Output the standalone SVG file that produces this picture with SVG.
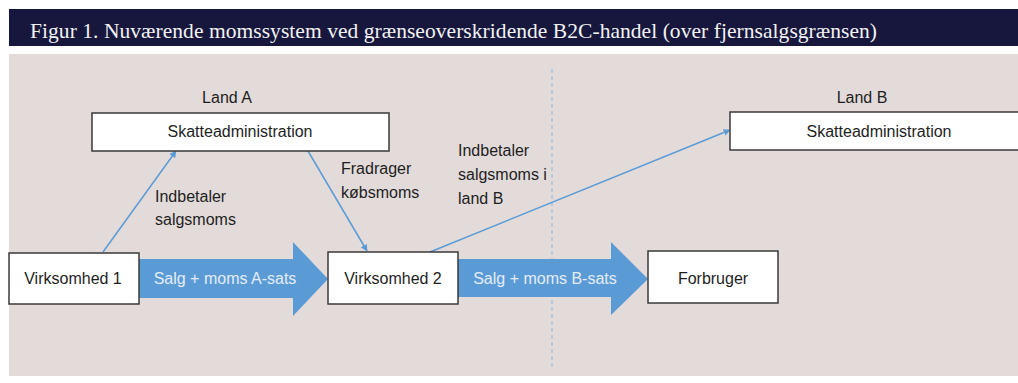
<svg xmlns="http://www.w3.org/2000/svg" width="1018" height="383" viewBox="0 0 1018 383">
  <defs>
    <style>
      .box { fill: #ffffff; stroke: #3a3a3a; stroke-width: 1.5; }
      .lbl { font-family: "Liberation Sans", Arial, sans-serif; font-size: 16px; fill: #1e1e1e; }
      .mid { text-anchor: middle; }
      .flow { fill: #5b9bd5; }
      .flowtxt { font-family: "Liberation Sans", Arial, sans-serif; font-size: 16px; fill: #e4ebf6; text-anchor: middle; }
      .conn { stroke: #5b9bd5; stroke-width: 1.5; fill: none; marker-end: url(#tip); }
    </style>
    <marker id="tip" viewBox="0 0 10 10" refX="9" refY="5" markerWidth="7" markerHeight="7" markerUnits="userSpaceOnUse" orient="auto">
      <path d="M0,0 L10,5 L0,10 z" fill="#5b9bd5"/>
    </marker>
  </defs>

  <rect x="0" y="0" width="1018" height="383" fill="#ffffff"/>

  <!-- title band -->
  <rect x="9" y="9" width="1009" height="37" fill="#17173e"/>
  <text x="30" y="38" font-family="Liberation Serif, 'Times New Roman', serif" font-size="21.5" fill="#f2f2f2" textLength="847">Figur 1. Nuværende momssystem ved grænseoverskridende B2C-handel (over fjernsalgsgrænsen)</text>

  <!-- diagram panel -->
  <rect x="9" y="54" width="1009" height="322" fill="#e2dbda"/>

  <!-- border between the two countries -->
  <line x1="552" y1="69" x2="552" y2="367" stroke="#8fb4dc" stroke-width="1" stroke-dasharray="4 3"/>

  <!-- broad flow arrows -->
  <g id="flow-a">
    <polygon class="flow" points="139,259 293,259 293,242 328,279 293,316 293,298 139,298"/>
    <text class="flowtxt" x="225" y="284">Salg + moms A-sats</text>
  </g>
  <g id="flow-b">
    <polygon class="flow" points="458,259 611,259 611,242 648,279 611,315 611,297 458,297"/>
    <text class="flowtxt" x="545" y="284">Salg + moms B-sats</text>
  </g>

  <!-- connectors -->
  <g id="connectors">
    <line class="conn" x1="103" y1="252" x2="176" y2="151"/>
    <line class="conn" x1="308" y1="151" x2="367" y2="251"/>
    <line class="conn" x1="430" y1="252" x2="730" y2="130"/>
    <text class="lbl" x="155" y="202">Indbetaler</text>
    <text class="lbl" x="155" y="225">salgsmoms</text>
    <text class="lbl" x="341" y="174">Fradrager</text>
    <text class="lbl" x="341" y="198">købsmoms</text>
    <text class="lbl" x="458" y="156">Indbetaler</text>
    <text class="lbl" x="458" y="180">salgsmoms i</text>
    <text class="lbl" x="458" y="204">land B</text>
  </g>

  <!-- nodes -->
  <g id="skat-a">
    <text class="lbl mid" x="227" y="103">Land A</text>
    <rect class="box" x="92" y="113" width="297" height="38"/>
    <text class="lbl mid" x="240" y="137">Skatteadministration</text>
  </g>
  <g id="skat-b">
    <text class="lbl mid" x="862" y="103">Land B</text>
    <rect class="box" x="730" y="112" width="297" height="38"/>
    <text class="lbl mid" x="879" y="137">Skatteadministration</text>
  </g>
  <g id="virksomhed-1">
    <rect class="box" x="9" y="253" width="130" height="51"/>
    <text class="lbl mid" x="73" y="284">Virksomhed 1</text>
  </g>
  <g id="virksomhed-2">
    <rect class="box" x="328" y="252" width="130" height="52"/>
    <text class="lbl mid" x="393" y="284">Virksomhed 2</text>
  </g>
  <g id="forbruger">
    <rect class="box" x="648" y="251" width="130" height="52"/>
    <text class="lbl mid" x="713" y="284">Forbruger</text>
  </g>
</svg>
